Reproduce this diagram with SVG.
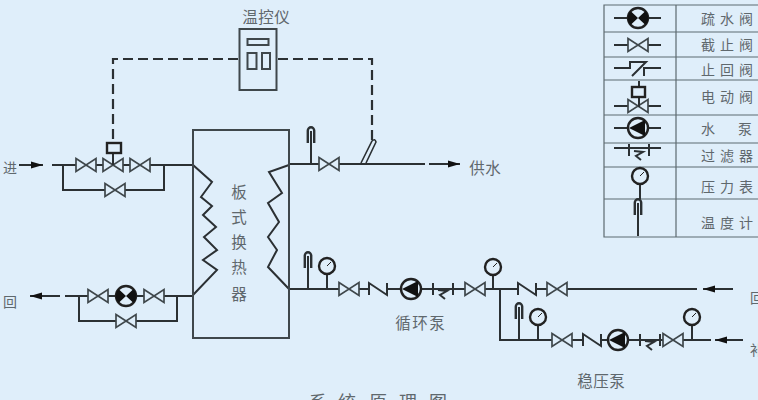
<svg xmlns="http://www.w3.org/2000/svg" width="758" height="400" viewBox="0 0 758 400">
<style>
text{font-family:"Noto Sans CJK SC","Noto Sans",sans-serif;font-size:14px;fill:#5f686d;text-anchor:middle}
.m{font-size:15.500px}
.p{fill:none;stroke:#2b3033;stroke-width:2}
.d{fill:none;stroke:#2b3033;stroke-width:2.200;stroke-dasharray:10 5}
.b{fill:none;stroke:#3f474b;stroke-width:2}
.v{fill:#dfeefa;stroke:#3f474b;stroke-width:1.700}
.g{fill:#dfeefa;stroke:#222;stroke-width:2.400}
.k{fill:#111}
.l{fill:none;stroke:#5d6a70;stroke-width:1.200}
.bg{fill:#dfeefa}
</style>
<defs>
<g id="valve"><path class="v" d="M-10-6.500L10 6.500V-6.500L-10 6.500Z"/></g>
<g id="check"><rect class="bg" x="-8" y="-3" width="16" height="6"/><path class="p" d="M-12 0H-9M9 0H12M-9 6V-6L9 6V-6"/></g>
<g id="checkz"><rect class="bg" x="-8" y="-3" width="16" height="6"/><path class="p" d="M-12 0H-8V-6H8L-6 8M6 8V0H12"/></g>
<g id="pump"><circle class="g" r="10"/><path class="k" d="M-9 0L7-8V8Z"/></g>
<g id="drain"><circle class="g" r="10"/><path class="k" d="M0 0L-7.500-7A10 10 0 0 0-7.500 7ZM0 0L7.500-7A10 10 0 0 1 7.500 7Z"/></g>
<g id="filter"><path class="p" d="M-10-6V6M10-6V6"/><path class="p" d="M-5 1L4 2L-3 6L2 10" stroke-width="1.800"/></g>
<g id="gauge"><path class="p" d="M0 7V23"/><circle class="g" r="8"/><path d="M0 0L4-4" stroke="#222" stroke-width="1"/></g>
<g id="thermo"><path class="p" d="M0 4V37"/><path d="M-3.200 16V3.500A3.200 3.200 0 0 1 3.200 3.500V16" fill="none" stroke="#2b3033" stroke-width="2.400"/></g>
<marker id="arr" markerWidth="14" markerHeight="8" refX="12" refY="4" orient="auto" markerUnits="userSpaceOnUse"><path d="M0 0.500L12 4L0 7.500Z" fill="#111"/></marker>
</defs>
<rect width="758" height="400" fill="#dfeefa"/>
<g id="connectors">
<path class="d" d="M238 59H113V143"/>
<path class="d" d="M278 59H372V140"/>
<path class="p" d="M19 165H43" marker-end="url(#arr)"/>
<path class="p" d="M52 165H193"/>
<path class="p" d="M63 165V190H164V165"/>
<path class="p" d="M60 296H30" marker-end="url(#arr)"/>
<path class="p" d="M65 296H193"/>
<path class="p" d="M79 296V321H177V295"/>
<path class="p" d="M193 165L212 182L201 197L212 206L203 215L216 227L204 237L217 250L203 260L217 270L193 295"/>
<path class="p" d="M289 165L269 172L282 193L268 203L279 222L268 237L277 250L268 267L289 289"/>
<path class="p" d="M289 164H425"/>
<path class="p" d="M429 164H460" marker-end="url(#arr)"/>
<path d="M361 163L372 141Q375 138 376 142L366 163" fill="none" stroke="#2b3033" stroke-width="1.600"/>
<path class="p" d="M289 289H697"/>
<path class="p" d="M733 289H703" marker-end="url(#arr)"/>
<path class="p" d="M500 289V340H711"/>
<path class="p" d="M743 340H715" marker-end="url(#arr)"/>
</g>
<g id="controller"><rect class="b" x="239.500" y="29" width="37" height="61" style="fill:#dfeefa"/><rect class="b" x="247.500" y="39" width="21" height="6"/><rect class="b" x="247.500" y="53" width="9" height="16"/><rect class="b" x="262" y="53" width="8" height="16"/><text class="m" x="250 266 282" y="23">温控仪</text></g>
<g id="exchanger"><rect class="b" x="193" y="130" width="96" height="208"/><text class="m" x="239" y="198">板</text><text class="m" x="239" y="223">式</text><text class="m" x="239" y="248">换</text><text class="m" x="239" y="273">热</text><text class="m" x="239" y="300">器</text></g>
<g id="inlet-valves"><use href="#valve" x="86" y="165"/><use href="#valve" x="113" y="165"/><use href="#valve" x="140" y="165"/><use href="#valve" x="115" y="190"/><path class="p" d="M113 153V165"/><rect class="g" x="107" y="143" width="14" height="10"/></g>
<g id="outlet-valves"><use href="#valve" x="98" y="296"/><use href="#drain" x="126" y="296"/><use href="#valve" x="154" y="296"/><use href="#valve" x="126" y="321"/></g>
<g id="supply-fittings"><use href="#thermo" x="311" y="127"/><use href="#valve" x="329" y="164"/></g>
<g id="circulation"><use href="#thermo" x="308" y="252"/><use href="#gauge" x="327" y="266"/><use href="#valve" x="349" y="289"/><use href="#check" x="378" y="289"/><use href="#pump" x="411" y="289"/><use href="#filter" x="443" y="289"/><use href="#valve" x="475" y="289"/><use href="#gauge" x="493" y="267"/><use href="#check" x="527" y="289"/><use href="#valve" x="557" y="289"/></g>
<g id="pressure"><use href="#thermo" x="519" y="303"/><use href="#gauge" x="538" y="317"/><use href="#valve" x="562" y="340"/><use href="#check" x="592" y="340"/><use href="#pump" x="618" y="340"/><use href="#filter" x="650" y="340"/><use href="#valve" x="673" y="340"/><use href="#gauge" x="692" y="317"/></g>
<text x="10" y="173">进</text>
<text x="10" y="307">回</text>
<text class="m" x="477 493" y="174">供水</text>
<text x="757" y="303">回</text>
<text x="757" y="355">补</text>
<text class="m" x="403 420 437" y="329">循环泵</text>
<text class="m" x="585 601 617" y="387">稳压泵</text>
<text x="318 347 378 408 438" y="409" style="font-size:18px">系统原理图</text>
<g id="legend">
<path class="l" d="M758 5H604V237H758M676 5V237M604 32H758M604 57H758M604 80H758M604 115H758M604 143H758M604 167H758M604 199H758"/>
<path class="p" d="M614 18H661M614 45H661M614 106H661M614 128H661M614 148H661"/>
<use href="#drain" x="638" y="18"/><use href="#valve" x="638" y="45"/><use href="#checkz" x="638" y="68"/>
<path class="p" d="M614 68H626M650 68H661"/>
<use href="#valve" x="638" y="106"/><path class="p" d="M639 81V107"/><rect class="g" x="632" y="87" width="13" height="10"/>
<use href="#pump" x="638" y="128"/><use href="#filter" x="639" y="150"/>
<use href="#gauge" x="640" y="176"/><use href="#thermo" x="638" y="199"/>
<text x="708 727 746" y="24">疏水阀</text>
<text x="708 727 746" y="50">截止阀</text>
<text x="708 727 746" y="75">止回阀</text>
<text x="708 727 746" y="102">电动阀</text>
<text x="708 745" y="134">水泵</text>
<text x="708 727 746" y="161">过滤器</text>
<text x="708 727 746" y="192">压力表</text>
<text x="708 727 746" y="228">温度计</text>
</g>
</svg>
